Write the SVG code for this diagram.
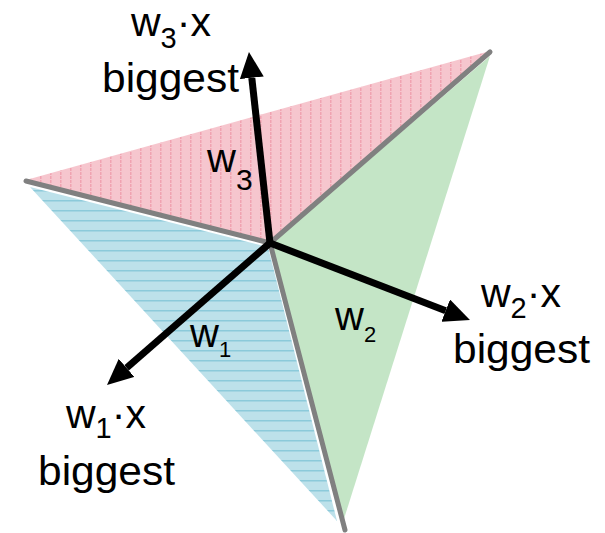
<svg xmlns="http://www.w3.org/2000/svg" width="605" height="533" viewBox="0 0 605 533">
  <style>
    .lbl { font-family: "Liberation Sans", Arial, sans-serif; fill: #000; }
    .big { font-size: 41px; }
    .edge { stroke: #808080; stroke-width: 5; stroke-linecap: round; fill: none; }
    .arrow { stroke: #000; stroke-width: 7; fill: none; marker-end: url(#head); }
  </style>
  <defs>
    <pattern id="pinkFill" patternUnits="userSpaceOnUse" width="10" height="4">
      <rect width="10" height="4" fill="#f6c6ce"/>
      <rect x="0" y="0" width="1.5" height="3" fill="#f0a3b1"/>
    </pattern>
    <pattern id="blueFill" patternUnits="userSpaceOnUse" width="4" height="10">
      <rect width="4" height="10" fill="#bde1ea"/>
      <rect x="0" y="0" width="4" height="1.5" fill="#8ccada"/>
    </pattern>
    <pattern id="greenFill" patternUnits="userSpaceOnUse" width="4" height="4">
      <rect width="4" height="4" fill="#c4e5c6"/>
    </pattern>
    <marker id="head" markerUnits="userSpaceOnUse" markerWidth="26" markerHeight="24" refX="0" refY="12" orient="auto" viewBox="0 0 26 24">
      <path d="M0,0 L26,12 L0,24 z" fill="#000"/>
    </marker>
  </defs>

  <g id="region-w3">
    <polygon points="26,180 490,51 270,243" fill="url(#pinkFill)"/>
  </g>
  <g id="region-w1">
    <polygon points="30,187 268,247 337,521" fill="url(#blueFill)"/>
  </g>
  <g id="region-w2">
    <polygon points="272,243 490,56 343,522" fill="url(#greenFill)"/>
  </g>

  <g id="boundaries">
    <line class="edge" x1="26" y1="181" x2="270" y2="243"/>
    <line class="edge" x1="270" y1="243" x2="490" y2="52"/>
    <line class="edge" x1="270" y1="243" x2="345" y2="530"/>
  </g>

  <g id="connectors">
    <line class="arrow" x1="270" y1="243" x2="251.8" y2="77.8"/>
    <line class="arrow" x1="270" y1="243" x2="126.6" y2="367.9"/>
    <line class="arrow" x1="270" y1="243" x2="445.7" y2="310.7"/>
  </g>

  <g id="label-w3-region">
    <text class="lbl" x="207" y="172" font-size="40">w<tspan font-size="30" dy="18">3</tspan></text>
  </g>
  <g id="label-w1-region">
    <text class="lbl" x="190" y="347" font-size="40">w<tspan font-size="22" dy="10">1</tspan></text>
  </g>
  <g id="label-w2-region">
    <text class="lbl" x="335" y="330" font-size="40">w<tspan font-size="22" dy="12">2</tspan></text>
  </g>

  <g id="label-w3-biggest">
    <text class="lbl big" x="131" y="36">w<tspan font-size="29" dy="12">3</tspan><tspan dy="-12">·x</tspan></text>
    <text class="lbl big" x="102" y="92" textLength="137" lengthAdjust="spacingAndGlyphs">biggest</text>
  </g>
  <g id="label-w1-biggest">
    <text class="lbl big" x="66" y="428">w<tspan font-size="29" dy="10">1</tspan><tspan dy="-10">·x</tspan></text>
    <text class="lbl big" x="38" y="485" textLength="137" lengthAdjust="spacingAndGlyphs">biggest</text>
  </g>
  <g id="label-w2-biggest">
    <text class="lbl big" x="481" y="307">w<tspan font-size="29" dy="11">2</tspan><tspan dy="-11">·x</tspan></text>
    <text class="lbl big" x="453" y="363" textLength="137" lengthAdjust="spacingAndGlyphs">biggest</text>
  </g>
</svg>
